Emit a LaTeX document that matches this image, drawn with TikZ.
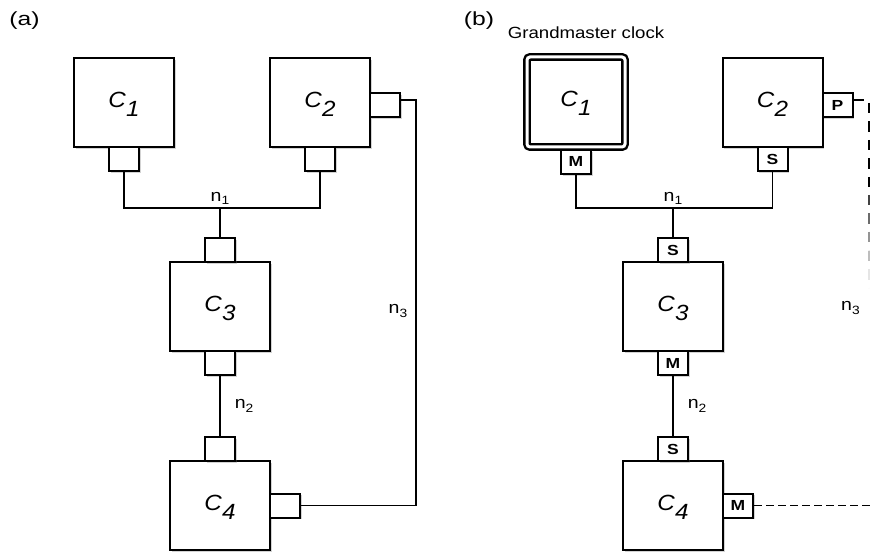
\documentclass[tikz,border=0pt]{standalone}
\usepackage{fontspec}
\setmainfont{Liberation Sans}
\usepackage{tikz}
\usetikzlibrary{positioning, calc, shadows}
\definecolor{mydark}{RGB}{0,0,0}
\definecolor{myshadow}{RGB}{110,110,110}
\newcommand{\widetext}[2][1.2]{\scalebox{#1}[1]{#2}}
\newcommand{\clkname}[1]{\widetext[1.1]{\rule{0pt}{9.3pt}\textit{C}\raisebox{-4.6pt}{\textit{#1}}}}
\newcommand{\netname}[1]{\widetext[1.15]{n\raisebox{-1.8pt}{\fontsize{6}{7}\selectfont #1}}}
\tikzset{
  clock/.style={rectangle, draw=mydark, fill=white, line width=1pt,
    minimum width=50pt, minimum height=44.5pt, inner sep=0pt,
    font=\fontsize{11}{13}\selectfont,
    drop shadow={shadow xshift=0.8pt, shadow yshift=-0.9pt, opacity=0.3, fill=myshadow}},
  port/.style={rectangle, draw=mydark, fill=white, line width=1pt,
    minimum width=15pt, minimum height=12pt, inner sep=0pt,
    font=\fontsize{7.3}{8}\selectfont\bfseries,
    drop shadow={shadow xshift=0.8pt, shadow yshift=-0.9pt, opacity=0.3, fill=myshadow}},
  wire/.style={line width=0.75pt, color=mydark},
  netlbl/.style={font=\fontsize{8.5}{9}\selectfont, inner sep=1pt},
  panel/.style={font=\fontsize{9.5}{11}\selectfont, inner sep=0pt}
}

\begin{document}
\begin{tikzpicture}[
  x=0.5pt, y=-0.5pt,
  gmclock/.style={clock, double=white, double distance=1.5pt, line width=1.2pt,
    rounded corners=1.5pt, outer sep=1.95pt, minimum width=49pt, minimum height=45pt},
  dashv/.style={line width=0.9pt, color=mydark, dash pattern=on 5.25pt off 4pt},
  dashh/.style={line width=0.9pt, color=mydark, dash pattern=on 4pt off 2pt}
]
  \useasboundingbox (0,0) rectangle (870,555);

  % Panel labels
  \node[panel] (laba) at (24.5,20.5) {\widetext[1.3]{(a)}};
  \node[panel] (labb) at (479,20.5) {\widetext[1.3]{(b)}};
  \node[panel, font=\fontsize{8.1}{9}\selectfont] (gmlab) at (586,33) {\widetext[1.15]{Grandmaster clock}};

  % Nodes (a)
  \node[clock] (c1a) at (124,102.5) {\clkname{1}};
  \node[clock] (c2a) at (320,102.5) {\clkname{2}};
  \node[clock] (c3a) at (220,306.5) {\clkname{3}};
  \node[clock] (c4a) at (220,505.5) {\clkname{4}};
  \node[port, below=-1pt of c1a] (pa1) {};
  \node[port, below=-1pt of c2a] (pa2) {};
  \node[port, right=-1pt of c2a, yshift=-1.25pt] (pa2r) {};
  \node[port, above=-1pt of c3a] (pa3t) {};
  \node[port, below=-1pt of c3a] (pa3b) {};
  \node[port, above=-1pt of c4a] (pa4t) {};
  \node[port, right=-1pt of c4a] (pa4r) {};

  % Wires (a)
  \coordinate (ja) at (220,208);
  \coordinate (ka) at (416,505.5);
  \draw[wire] (pa1.south) |- (ja) -| (pa2.south);
  \draw[wire] (ja) -- (pa3t.north);
  \node[netlbl, above=0.3pt] (n1a) at (ja) {\netname{1}};
  \draw[wire] (pa3b.south) -- node[netlbl, right=6pt] (n2a) {\netname{2}} (pa4t.north);
  \draw[wire] ([yshift=2.5pt]pa2r.east) -| node[netlbl, pos=0.76, left=3pt] (n3a) {\netname{3}} (ka) -- (pa4r.east);

  % Nodes (b)
  \node[gmclock] (c1b) at (576,102) {\clkname{1}};
  \node[clock] (c2b) at (772.5,102.5) {\clkname{2}};
  \node[clock] (c3b) at (673,306.5) {\clkname{3}};
  \node[clock] (c4b) at (673,505.5) {\clkname{4}};
  \node[port, below=-1pt of c1b] (pb1) {\widetext{M}};
  \node[port, below=-1pt of c2b] (pb2) {\widetext{S}};
  \node[port, right=-1pt of c2b, yshift=-1.25pt] (pb2r) {\widetext{P}};
  \node[port, above=-1pt of c3b] (pb3t) {\widetext{S}};
  \node[port, below=-1pt of c3b] (pb3b) {\widetext{M}};
  \node[port, above=-1pt of c4b] (pb4t) {\widetext{S}};
  \node[port, right=-1pt of c4b] (pb4r) {\widetext{M}};

  % Wires (b)
  \coordinate (jb) at (673,208);
  \coordinate (kb) at (869,195);
  \coordinate (kc) at (872,505.5);
  \draw[wire] (pb1.south) |- (jb) -| (pb2.south);
  \draw[wire] (jb) -- (pb3t.north);
  \node[netlbl, above=0.3pt] (n1b) at (jb) {\netname{1}};
  \draw[wire] (pb3b.south) -- node[netlbl, right=6pt] (n2b) {\netname{2}} (pb4t.north);
  \draw[dashv] ([yshift=2.5pt]pb2r.east) -| (kb);
  \foreach \k [evaluate=\k as \lvl using int(90-16*\k)] in {1,...,5}
    \draw[dashv, color=mydark!\lvl] ($(kb)+(0,{18.5*(\k-1)})$) -- ($(kb)+(0,{18.5*\k})$);
  \node[netlbl] (n3b) at (850.5,308) {\netname{3}};
  \draw[dashh] (pb4r.east) -- (kc);
\end{tikzpicture}
\end{document}
